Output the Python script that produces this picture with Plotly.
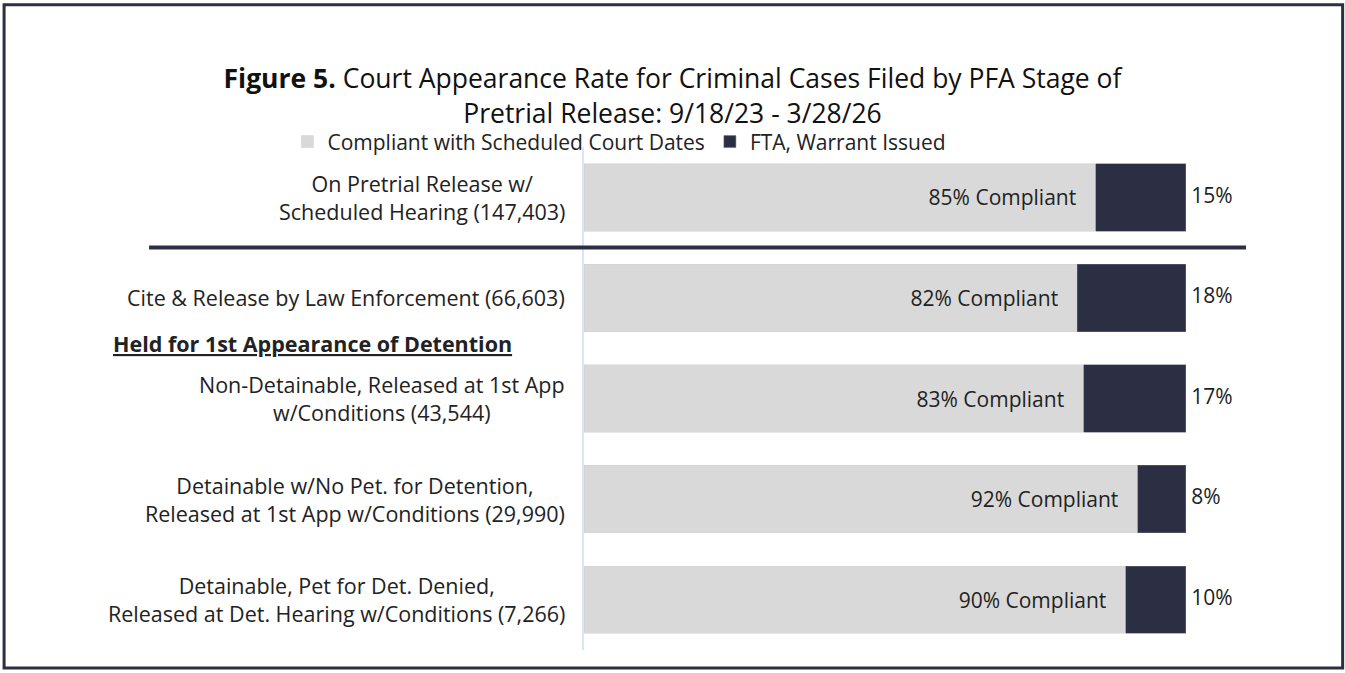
import plotly.graph_objects as go

# Data
categories = [
    "On Pretrial Release w/<br>Scheduled Hearing (147,403)",
    "Cite & Release by Law Enforcement (66,603)",
    "Non-Detainable, Released at 1st App<br>w/Conditions (43,544)",
    "Detainable w/No Pet. for Detention,<br>Released at 1st App w/Conditions (29,990)",
    "Detainable, Pet for Det. Denied,<br>Released at Det. Hearing w/Conditions (7,266)",
]
compliant = [85, 82, 83, 92, 90]
fta = [15, 18, 17, 8, 10]
total = [c + f for c, f in zip(compliant, fta)]

LIGHT = "#d9d9d9"
DARK = "#2c2e43"
FONT = "Open Sans"
FS = 21

fig = go.Figure()

fig.add_trace(go.Bar(
    y=categories, x=compliant, orientation="h",
    name="Compliant with Scheduled Court Dates",
    marker=dict(color=LIGHT, line=dict(color="#cfcfcf", width=0.5)),
    text=[f"{v}% Compliant&nbsp;&nbsp;&nbsp;" for v in compliant],
    textposition="inside", insidetextanchor="end",
    textfont=dict(family=FONT, size=FS, color="#222222"),
    hoverinfo="skip",
))
fig.add_trace(go.Bar(
    y=categories, x=fta, orientation="h",
    name="FTA, Warrant Issued",
    marker=dict(color=DARK, line=dict(color="#6b6e80", width=0.5)),
    hoverinfo="skip",
))
# percent labels right of bars
fig.add_trace(go.Scatter(
    y=categories, x=total, mode="text",
    text=[f"&nbsp;{v}%" for v in fta], textposition="middle right",
    textfont=dict(family=FONT, size=FS, color="#222222"),
    showlegend=False, hoverinfo="skip",
))

# category labels (centred lines, right-aligned block)
for cat in categories:
    fig.add_annotation(
        x=0, xref="paper", y=cat, yref="y",
        text=cat, showarrow=False, xanchor="right", yanchor="middle",
        xshift=-17, align="center",
        font=dict(family=FONT, size=21.5, color="#222222"),
    )

fig.add_annotation(
    x=-0.714, xref="paper", y=1.45, yref="y",
    text="<b><u>Held for 1st Appearance of Detention</u></b>",
    showarrow=False, xanchor="left", yanchor="middle",
    font=dict(family=FONT, size=21.5, color="#222222"),
)

# separator line
fig.add_shape(type="line", xref="paper", yref="y",
              x0=-0.657, x1=1.0, y0=0.5, y1=0.5,
              line=dict(color=DARK, width=4))
# outer frame
fig.add_shape(type="rect", xref="paper", yref="paper",
              x0=-0.876, x1=1.146, y0=-0.036, y1=1.283,
              line=dict(color=DARK, width=3))

fig.update_layout(
    width=1345, height=673,
    barmode="stack", bargap=0.33,
    paper_bgcolor="white", plot_bgcolor="white",
    margin=dict(l=584, r=99, t=147, b=23),
    font=dict(family=FONT, size=FS, color="#222222"),
    title=dict(
        text="<b>Figure 5.</b> Court Appearance Rate for Criminal Cases Filed by PFA Stage of<br>Pretrial Release: 9/18/23 - 3/28/26",
        x=0.5, xanchor="center", y=0.869, yanchor="middle",
        font=dict(family=FONT, size=26.5, color="#111111"),
    ),
    legend=dict(
        orientation="h", x=-0.448, xanchor="left", y=1.01, yanchor="middle",
        font=dict(family=FONT, size=FS, color="#222222"),
        traceorder="normal", bgcolor="rgba(0,0,0,0)",
    ),
    xaxis=dict(range=[0, 110], visible=False, fixedrange=True),
    yaxis=dict(
        autorange="reversed", showticklabels=False, ticks="",
        showgrid=False, zeroline=False, fixedrange=True,
        showline=True, linecolor="#dce6f2", linewidth=2,
    ),
)

fig.write_html("out.html", config={"displayModeBar": False},
               post_script="document.body.style.margin='0px';")
